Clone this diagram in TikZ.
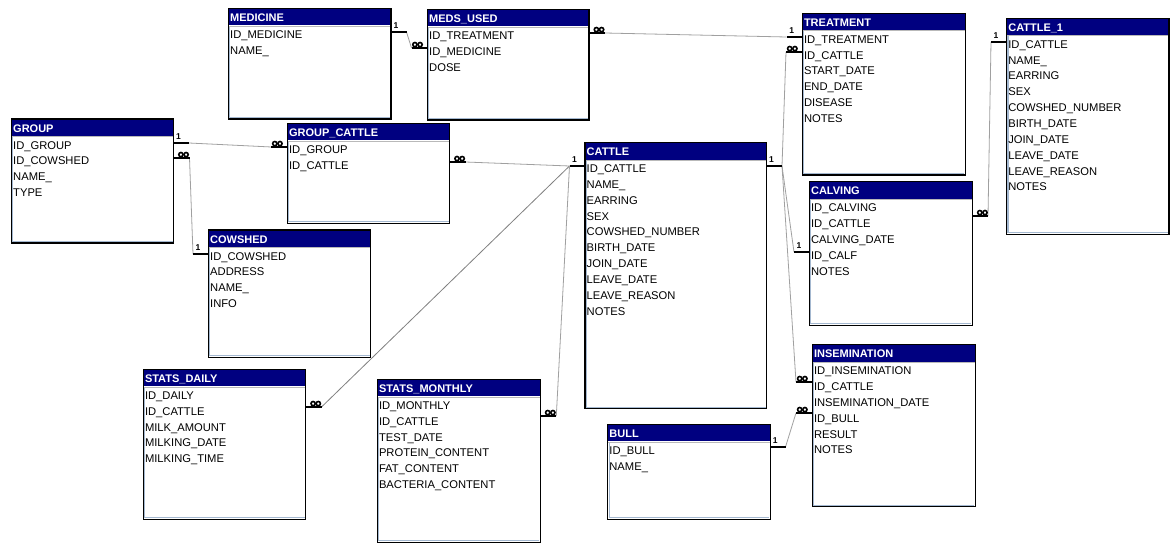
\documentclass[tikz,border=0pt]{standalone}
\usepackage{fontspec}
\setmainfont{Liberation Sans}
\definecolor{hdr}{HTML}{000080}
\definecolor{edgeblue}{HTML}{A4B8D0}
\definecolor{linegray}{HTML}{A0A0A0}
\tikzset{
  tbox/.style={draw=black,line width=1.2pt,inner sep=0pt,outer sep=0pt},
  ttl/.style={text=white,font=\bfseries\fontsize{11}{11}\selectfont,inner sep=0pt},
  fld/.style={text=black,font=\fontsize{11.2}{11.2}\selectfont,inner sep=0pt},
  stubbar/.style={line width=2.8pt,black},
  infring/.style={line width=1.6pt,black,fill=white},
  onel/.style={font=\bfseries\fontsize{8.5}{8.5}\selectfont,inner sep=0pt},
  rel/.style={linegray,line width=0.8pt}
}
\newcommand\tbl[7]{%
  \fill[white] (#3,#4) rectangle ++(#5,#6);
  \fill[hdr] (#3,#4) rectangle ++(#5,17);
  \draw[gray!55,line width=0.8pt] (#3,#4+17.6) -- ++(#5,0);
  \draw[edgeblue,line width=1.1pt] (#3+1.4,#4+18.2) -- (#3+1.4,#4+#6-1.4) -- (#3+#5-1,#4+#6-1.4);
  \node[tbox,minimum width=#5pt,minimum height=#6pt,anchor=north west] (#1) at (#3,#4) {};
  \node[ttl,anchor=base west] (#1-t) at (#3+1.5,#4+13) {#2};
  \foreach \f [count=\i from 0] in {#7} {
    \node[fld,anchor=base west] (#1-f\i) at (#3+1.5,#4+30+15.85*\i) {\f};
  }
}
% one-side stub: name, edge x, y, direction
\newcommand\sone[4]{%
  \draw[stubbar] (#2,#3) -- ++(15.5*#4,0) coordinate (#1);
  \node[onel] (#1-l) at (#2+7.75*#4-2.75,#3-6) {1};
}
% many-side stub: name, edge x, y, direction
\newcommand\smany[4]{%
  \draw[stubbar] (#2,#3) -- ++(16*#4,0) coordinate (#1);
  \draw[infring] (#2+7.4*#4,#3-3.4) circle (2.1);
  \draw[infring] (#2+12.6*#4,#3-3.4) circle (2.1);
}
\begin{document}
\begin{tikzpicture}[x=1pt,y=-1pt]
\useasboundingbox (0,0) rectangle (1176,551);
\fill[white] (0,0) rectangle (1176,551);

% connectors (behind tables)
\coordinate (p1) at (406.5,32);   \coordinate (p2) at (411.5,48);
\coordinate (p3) at (605,33);     \coordinate (p4) at (786.5,37);
\coordinate (p5) at (786,52);     \coordinate (p6) at (782,166);
\coordinate (p7) at (794,252);    \coordinate (p8) at (796,382);
\coordinate (p9) at (796,413);    \coordinate (p10) at (785.5,447);
\coordinate (p11) at (988,216);   \coordinate (p12) at (991,42);
\coordinate (p13) at (569.5,166); \coordinate (p14) at (465.5,162);
\coordinate (p15) at (321.5,407); \coordinate (p16) at (556.3,416);
\coordinate (p17) at (189,143);   \coordinate (p18) at (271.4,147);
\coordinate (p19) at (189.5,158); \coordinate (p20) at (193,254);

\draw[rel] (p1) -- (p2);
\draw[rel] (p3) -- (p4);
\draw[rel] (p6) -- (p5);
\draw[rel] (p6) -- (p7);
\draw[rel] (p6) -- (p8);
\draw[rel] (p10) -- (p9);
\draw[rel] (p11) -- (p12);
\draw[rel] (p14) -- (p13);
\draw[rel,gray] (p15) -- (p13);
\draw[rel] (p16) -- (p13);
\draw[rel] (p17) -- (p18);
\draw[rel] (p19) -- (p20);

% tables
\tbl{medicine}{MEDICINE}{228.5}{8.5}{162.5}{110.5}{ID\_MEDICINE,NAME\_}
\tbl{medsused}{MEDS\_USED}{427.5}{9.5}{161.5}{110.5}{ID\_TREATMENT,ID\_MEDICINE,DOSE}
\tbl{treatment}{TREATMENT}{802.3}{13.3}{163}{161.7}{ID\_TREATMENT,ID\_CATTLE,START\_DATE,END\_DATE,DISEASE,NOTES}
\tbl{cattleone}{CATTLE\_1}{1006.6}{18.3}{162.4}{216}{ID\_CATTLE,NAME\_,EARRING,SEX,COWSHED\_NUMBER,BIRTH\_DATE,JOIN\_DATE,LEAVE\_DATE,LEAVE\_REASON,NOTES}
\tbl{group}{GROUP}{11.5}{119}{162}{124}{ID\_GROUP,ID\_COWSHED,NAME\_,TYPE}
\tbl{groupcattle}{GROUP\_CATTLE}{287.4}{123.3}{162.2}{100}{ID\_GROUP,ID\_CATTLE}
\tbl{cattle}{CATTLE}{585}{142.5}{181.5}{266}{ID\_CATTLE,NAME\_,EARRING,SEX,COWSHED\_NUMBER,BIRTH\_DATE,JOIN\_DATE,LEAVE\_DATE,LEAVE\_REASON,NOTES}
\tbl{calving}{CALVING}{809.4}{181.7}{163}{143.5}{ID\_CALVING,ID\_CATTLE,CALVING\_DATE,ID\_CALF,NOTES}
\tbl{cowshed}{COWSHED}{208.5}{230}{162}{127.3}{ID\_COWSHED,ADDRESS,NAME\_,INFO}
\tbl{statsdaily}{STATS\_DAILY}{143.3}{369.3}{162.4}{150}{ID\_DAILY,ID\_CATTLE,MILK\_AMOUNT,MILKING\_DATE,MILKING\_TIME}
\tbl{statsmonthly}{STATS\_MONTHLY}{377.3}{379.3}{163}{163}{ID\_MONTHLY,ID\_CATTLE,TEST\_DATE,PROTEIN\_CONTENT,FAT\_CONTENT,BACTERIA\_CONTENT}
\tbl{insemination}{INSEMINATION}{812.3}{344.7}{163}{162}{ID\_INSEMINATION,ID\_CATTLE,INSEMINATION\_DATE,ID\_BULL,RESULT,NOTES}
\tbl{bull}{BULL}{607.7}{424.3}{162.6}{95}{ID\_BULL,NAME\_}

% stubs
\sone{s1}{391}{32}{1}
\smany{s2}{427.5}{48}{-1}
\smany{s3}{589}{33}{1}
\sone{s4}{802.3}{37}{-1}
\smany{s5}{802.3}{52}{-1}
\sone{s6}{766.5}{166}{1}
\sone{s7}{809.4}{252}{-1}
\smany{s8}{812.3}{382}{-1}
\smany{s9}{812.3}{413}{-1}
\sone{s10}{770.3}{447}{1}
\smany{s11}{972.4}{216}{1}
\sone{s12}{1006.6}{42}{-1}
\sone{s13}{585}{166}{-1}
\smany{s14}{449.6}{162}{1}
\smany{s15}{305.7}{407}{1}
\smany{s16}{540.3}{416}{1}
\sone{s17}{173.5}{143}{1}
\smany{s18}{287.4}{147}{-1}
\smany{s19}{173.5}{158}{1}
\sone{s20}{208.5}{254}{-1}
\end{tikzpicture}
\end{document}
